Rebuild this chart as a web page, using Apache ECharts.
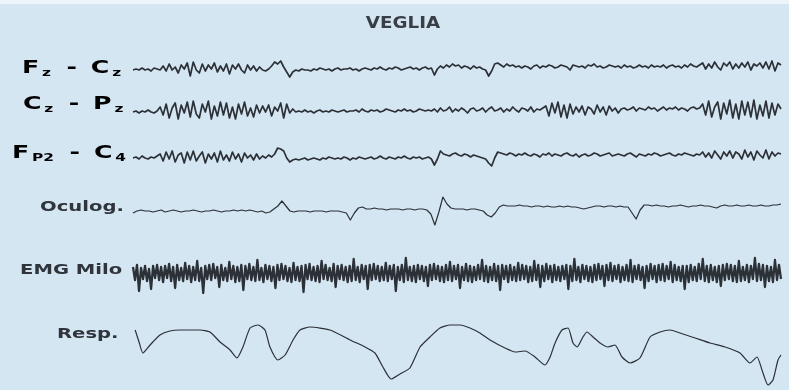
<!DOCTYPE html>
<html>
<head>
<meta charset="utf-8">
<script src="https://cdn.jsdelivr.net/npm/echarts@6/dist/echarts.min.js"></script>
<style>html,body{margin:0;padding:0;background:#d5e6f3;}#c{width:789px;height:390px;}</style>
</head>
<body>
<div id="c"></div>
<script>
// ---- data (offsets from each channel's baseline; positive = up) ----
const epochSeconds = 30;
const channelNames = ['Fz-Cz', 'Cz-Pz', 'Fp2-C4', 'Oculog.', 'EMG Milo', 'Resp.'];

const fzCz = [
 -2,-1,-2,0,-2,-1,-3,0,-1,-2,
 2,-3,4,-2,1,-5,3,-1,5,-8,6,-2,-5,4,-3,3,-1,5,-4,2,-3,4,-6,3,-1,4,-2,-5,3,-2,2,-3,1,-2,
 -3,-1,2,6,4,7,1,-4,-9,
 -4,-2,-3,-1,-2,-2,-3,-1,-2,0,-1,-2,-1,-3,-1,0,-2,-1,-1,0,-2,-1,-3,-1,0,-1,-2,0,-1,1,
 -1,-2,0,-1,1,0,-2,-1,0,1,-1,0,-2,0,1,-1,0,
 -7,-1,
 2,0,3,1,4,2,3,0,2,1,-1,2,0,1,-1,-2,
 -8,-3,4,5,
 3,1,4,2,3,1,2,0,2,1,-1,2,3,0,2,1,3,2,0,1,3,2,1,-2,3,2,1,2,0,3,2,4,1,2,0,1,3,2,1,2,
 0,3,1,2,0,1,3,1,2,0,3,1,2,1,3,0,2,3,1,2,0,3,1,4,2,1,3,
 5,-1,4,0,6,1,-2,5,2,6,-1,4,0,5,1,6,-2,4,2,5,0,6,-1,7,-3,5,3
];

const czPz = [
 -2,-1,-3,-1,-2,0,-2,-3,-1,
 3,-5,6,-8,2,7,-9,5,-3,8,-7,9,-4,-8,6,-2,9,-9,4,-6,8,-5,7,-8,3,-9,6,-4,8,-6,2,-7,5,-3,4,
 -2,5,-6,3,-1,7,-8,6,-3,1,
 -2,-1,-2,0,-2,-1,-3,-1,0,-2,-1,-2,0,-1,-2,-1,0,-2,-1,-1,0,-2,1,-1,-2,0,-1,0,-2,-1,
 1,0,-1,-2,0,-1,1,-1,0,-2,-1,1,0,-1,0,-1,
 1,-2,2,-1,0,3,-2,1,-1,2,0,-3,1,2,-1,0,2,-2,1,3,-1,0,2,-2,1,-1,3,0,-2,2,1,-1,3,-2,1,0,2,
 4,-6,7,-3,8,-7,5,-8,6,-4,3,
 -2,4,-5,3,1,-4,5,-2,3,-5,4,-1,2,-3,1,
 2,0,1,3,-1,2,1,0,3,1,2,-1,1,3,0,2,1,3,0,2,1,-1,2,3,1,2,
 6,-5,9,-7,3,8,-9,7,-4,10,-8,6,-9,9,-5,8,-7,10,-9,5,-6,9,-8,7,-5,6,1
];

const fp2C4 = [
 -1,0,-2,1,-1,-2,0,-1,1,
 3,-4,5,-2,6,-5,2,4,-6,5,-3,6,-4,1,5,-6,3,-2,4,-5,6,-3,2,-4,5,-2,3,-5,4,-1,2,-3,3,-2,1,
 -1,2,0,3,9,8,6,-1,-5,
 -3,-2,-3,-2,-1,-3,-2,-1,-2,-3,-1,-2,0,-1,-2,-1,-2,0,-1,-3,-1,-2,0,-1,-2,-1,0,-2,-1,1,
 -1,-2,0,-1,-2,0,-1,1,-1,-2,0,-1,0,-2,-1,0,-2,
 -8,-2,6,
 3,2,1,3,4,2,1,3,2,0,2,1,0,-1,-2,
 -6,-9,-1,5,
 4,3,2,4,3,1,3,2,4,2,1,3,2,0,3,2,4,1,3,2,1,3,4,2,1,3,0,2,3,1,2,4,3,1,2,3,4,1,2,3,
 2,1,3,4,2,0,3,2,1,3,2,4,3,1,2,3,4,2,1,3,2,4,3,2,1,3,2,
 5,0,4,-1,6,2,-2,5,1,6,-1,5,3,-2,7,0,5,-3,6,2,-1,7,-2,5,1,4,3
];

const oculog = [
 -3,-1,0,-1,-1,-2,-1,0,-2,-1,0,-1,-2,-1,-1,0,-1,-2,-1,-1,0,-1,-2,-1,-1,0,-1,0,-1,0,-1,-2,-1,-3,
 -2,1,4,9,4,-1,-2,-1,
 -1,-1,-2,-1,-1,-1,-2,-1,-1,-1,-2,
 -3,-10,-3,2,3,
 1,1,2,1,1,0,1,1,1,0,1,1,0,1,1,0,
 -4,-15,-2,13,6,2,
 1,1,1,0,1,1,0,
 -1,-5,-7,-3,3,5,
 4,4,4,5,4,4,3,4,4,3,4,3,3,4,3,4,3,3,2,1,
 2,3,4,4,3,4,4,3,4,3,3,
 -3,-9,0,5,
 5,4,5,4,4,3,4,4,5,4,3,4,4,5,4,4,3,2,4,5,4,4,5,4,4,5,4,4,5,4,4,5,5,6
];

const emgMilo = [
 6,-7,8,-18,5,-6,7,-8,4,-16,7,-5,
 8,-7,6,-9,7,-5,9,-8,6,-15,8,-7,
 5,-8,10,-6,7,-9,6,-7,12,-8,5,-20,
 7,-6,8,-7,9,-5,6,-14,8,-7,5,-8,
 11,-6,7,-9,6,-8,8,-17,7,-6,9,-7,
 6,-8,13,-7,5,-9,8,-6,7,-8,6,-15,
 8,-7,9,-6,7,-8,5,-9,10,-7,6,-8,
 7,-19,8,-6,9,-7,6,-8,7,-9,12,-6,
 8,-7,5,-8,9,-14,7,-6,8,-7,6,-9,
 7,-8,14,-7,6,-9,8,-6,7,-16,8,-7,
 9,-6,7,-8,6,-7,10,-8,7,-6,8,-18,
 6,-7,8,-9,15,-7,6,-8,7,-9,8,-6,
 7,-8,6,-13,8,-7,9,-6,7,-8,6,-9,
 8,-7,11,-8,7,-6,8,-15,6,-7,9,-8,
 7,-9,6,-7,8,-6,13,-8,7,-9,6,-7,
 9,-8,7,-17,8,-6,7,-9,8,-7,6,-8,
 10,-7,8,-6,7,-9,6,-8,12,-7,8,-14,
 7,-8,9,-6,7,-9,8,-7,6,-8,7,-6,
 8,-16,7,-8,14,-7,6,-9,8,-6,7,-8,
 6,-9,8,-7,9,-6,7,-13,8,-7,10,-8,
 7,-6,8,-9,6,-7,8,-8,13,-9,7,-6,
 8,-7,6,-15,7,-8,9,-6,7,-9,8,-7,
 9,-8,7,-6,11,-9,8,-7,6,-8,7,-16,
 7,-9,8,-7,6,-8,9,-6,14,-8,7,-9,
 8,-7,6,-9,7,-13,8,-7,9,-6,8,-8,
 7,-9,12,-8,6,-7,8,-9,7,-6,15,-8,
 9,-7,8,-14,7,-8,6,-9,13,-7,8,-6
];

const respTime = [
 0.1,0.28,0.46,0.79,1.25,1.71,2.18,3.10,3.56,4.03,4.49,4.81,5.09,5.42,5.79,6.11,6.34,6.71,7.04,7.41,
 7.73,8.19,9.12,10.05,10.74,11.20,11.57,11.95,12.36,12.82,13.29,13.75,14.21,14.68,15.14,15.60,16.06,
 16.53,17.22,17.69,18.15,18.61,19.07,19.31,19.54,19.86,20.14,20.37,20.56,20.83,21.02,21.30,21.62,
 21.99,22.31,22.64,23.01,23.47,23.94,24.40,24.86,25.32,26.02,26.71,27.41,28.10,28.56,28.89,29.12,
 29.40,29.63,29.86,30.0
];
const respValue = [
 25,13,2,10,20,24,25,25,23,13,5,-3,8,27,30,25,8,-5,0,15,
 25,28,25,15,8,2,-12,-24,-19,-13,8,18,27,30,30,27,22,
 15,7,3,4,-2,-10,-2,12,25,27,12,8,18,23,18,12,
 8,10,-2,-8,-3,18,23,25,22,17,12,8,2,-8,-2,-15,
 -30,-25,-5,0
];

// ---- chart ----
const ink = '#1d2127';
const labelInk = '#30353c';
const font = 'DejaVu Sans';

function uniformPairs(arr) {
  return arr.map((v, i) => [i * epochSeconds / (arr.length - 1), v]);
}
const seriesData = [
  uniformPairs(fzCz), uniformPairs(czPz), uniformPairs(fp2C4),
  uniformPairs(oculog), uniformPairs(emgMilo),
  respTime.map((t, i) => [t, respValue[i]])
];

// layout per channel: [top, height, half-range]
const layout = [[53, 30, 15], [95, 30, 15], [142, 30, 15], [190, 40, 20], [253, 40, 20], [320, 70, 35]];
const widths = [1.7, 1.7, 1.7, 1.2, 2.3, 1.2];

const grids = [], xAxes = [], yAxes = [], series = [];
layout.forEach((l, k) => {
  grids.push({ left: 133, right: 8, top: l[0], height: l[1] });
  xAxes.push({ type: 'value', gridIndex: k, min: 0, max: epochSeconds, show: false });
  yAxes.push({ type: 'value', gridIndex: k, min: -l[2], max: l[2], show: false });
  series.push({
    name: channelNames[k], type: 'line', xAxisIndex: k, yAxisIndex: k,
    data: seriesData[k], showSymbol: false, symbol: 'none',
    lineStyle: { color: ink, width: widths[k], opacity: 0.92, join: 'round' },
    smooth: k === 5 ? 0.2 : false, animation: false
  });
});

const big = { fontFamily: font, fontWeight: 'bold', fontSize: 18, color: labelInk };
const sub = { fontFamily: font, fontWeight: 'bold', fontSize: 11, color: labelInk, padding: [10, 0, 0, 2] };
const dash = { fontFamily: font, fontWeight: 'bold', fontSize: 18, color: labelInk, padding: [0, 10, 0, 11] };

function eegLabel(x, y, a, as, b, bs) {
  return {
    type: 'text', x: x, y: y, scaleX: 1.4, silent: true,
    style: {
      text: '{b|' + a + '}{s|' + as + '}{d|-}{b|' + b + '}{s|' + bs + '}',
      rich: { b: big, s: sub, d: dash },
      verticalAlign: 'middle', align: 'left'
    }
  };
}
function plainLabel(x, y, t, sx) {
  return {
    type: 'text', x: x, y: y, scaleX: sx, silent: true,
    style: { text: t, font: 'bold 14px "' + font + '"', fill: labelInk, verticalAlign: 'middle', align: 'left' }
  };
}

const option = {
  backgroundColor: '#d5e6f3',
  animation: false,
  grid: grids, xAxis: xAxes, yAxis: yAxes, series: series,
  graphic: [
    { type: 'rect', shape: { x: 0, y: 0, width: 789, height: 4 }, style: { fill: '#eef5fa' }, silent: true },
    {
      type: 'text', x: 403, y: 24, scaleX: 1.22, silent: true,
      style: { text: 'VEGLIA', font: 'bold 15px "' + font + '"', fill: '#3a3f47', align: 'center', verticalAlign: 'middle' }
    },
    eegLabel(22, 68, 'F', 'z', 'C', 'z'),
    eegLabel(23, 104, 'C', 'z', 'P', 'z'),
    eegLabel(12, 153, 'F', 'P2', 'C', '4'),
    plainLabel(40, 207, 'Oculog.', 1.4),
    plainLabel(20, 270, 'EMG Milo', 1.4),
    plainLabel(57, 334, 'Resp.', 1.4)
  ]
};
echarts.init(document.getElementById('c'), null, { renderer: 'canvas' }).setOption(option);
</script>
</body>
</html>
